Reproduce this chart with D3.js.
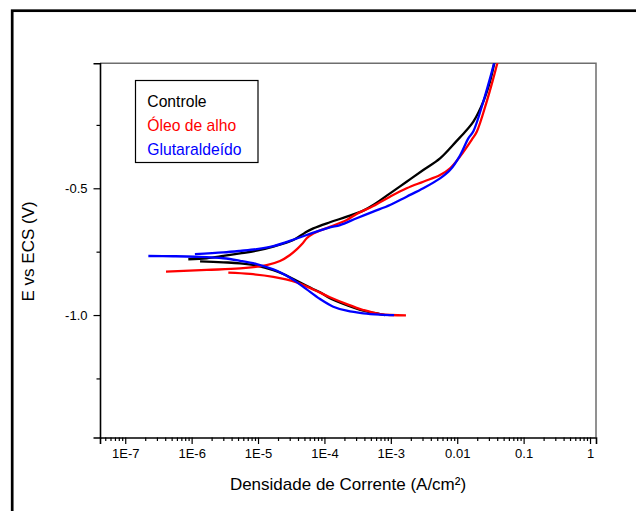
<!DOCTYPE html>
<html>
<head>
<meta charset="utf-8">
<script src="https://cdn.jsdelivr.net/npm/d3@7"></script>
<style>
  body { margin: 0; background: #fff; }
  text { font-family: "Liberation Sans", Arial, sans-serif; }
</style>
</head>
<body>
<script>
// Curvas de polarizacao (corrente em A/cm2, potencial em V vs ECS)
var controleCatI = [8.2e-4, 6.87e-4, 3.85e-4, 2.17e-4, 1.21e-4, 8.59e-5, 6.81e-5, 3.83e-5, 2.6e-5, 1.70e-5, 9.55e-6, 5.36e-6, 3.0e-6, 1.34e-6];
var controleCatE = [-1.0, -0.996, -0.983, -0.961, -0.934, -0.910, -0.898, -0.865, -0.842, -0.823, -0.805, -0.796, -0.792, -0.788];
var controleAnoI = [8.91e-7, 1.69e-6, 3.0e-6, 5.36e-6, 9.55e-6, 1.70e-5, 3.40e-5, 5.11e-5, 6.81e-5, 1.21e-4, 2.17e-4, 3.85e-4, 5.44e-4, 9.73e-4, 1.73e-3, 3.08e-3, 5.51e-3, 9.82e-3, 1.39e-2, 1.75e-2, 2.47e-2, 3.12e-2, 3.62e-2, 3.67e-2];
var controleAnoE = [-0.780, -0.776, -0.767, -0.757, -0.746, -0.730, -0.704, -0.675, -0.658, -0.634, -0.612, -0.588, -0.566, -0.520, -0.474, -0.428, -0.382, -0.313, -0.270, -0.237, -0.158, -0.079, -0.007, 0.0];

var oleoCatI = [1.69e-3, 6.87e-4, 3.85e-4, 2.17e-4, 1.21e-4, 6.81e-5, 3.83e-5, 2.64e-5, 1.70e-5, 7.59e-6, 3.57e-6];
var oleoCatE = [-1.001, -0.996, -0.980, -0.957, -0.930, -0.899, -0.871, -0.859, -0.849, -0.838, -0.833];
var oleoAnoI = [4.11e-7, 1.69e-6, 5.36e-6, 1.35e-5, 2.14e-5, 3.03e-5, 3.86e-5, 4.60e-5, 5.41e-5, 6.81e-5, 1.21e-4, 2.17e-4, 3.06e-4, 5.44e-4, 9.73e-4, 1.73e-3, 3.08e-3, 5.51e-3, 7.80e-3, 1.10e-2, 1.65e-2, 1.97e-2, 2.78e-2, 3.50e-2, 4.02e-2, 4.1e-2];
var oleoAnoE = [-0.829, -0.822, -0.816, -0.803, -0.787, -0.763, -0.740, -0.720, -0.697, -0.678, -0.652, -0.625, -0.601, -0.570, -0.533, -0.500, -0.474, -0.448, -0.421, -0.375, -0.309, -0.277, -0.158, -0.066, -0.007, 0.0];

var glutCatI = [1.12e-3, 6.87e-4, 3.85e-4, 2.17e-4, 1.36e-4, 8.59e-5, 5.41e-5, 3.83e-5, 3.03e-5, 2.14e-5, 1.70e-5, 9.55e-6, 5.36e-6, 3.0e-6, 1.12e-6, 5.3e-7, 2.23e-7];
var glutCatE = [-1.0, -0.998, -0.993, -0.983, -0.967, -0.937, -0.899, -0.870, -0.853, -0.831, -0.820, -0.799, -0.786, -0.776, -0.770, -0.768, -0.767];
var glutAnoI = [1.12e-6, 3.0e-6, 5.36e-6, 9.55e-6, 1.70e-5, 3.83e-5, 6.81e-5, 1.21e-4, 1.72e-4, 3.06e-4, 5.44e-4, 9.73e-4, 1.73e-3, 3.08e-3, 5.51e-3, 7.80e-3, 1.10e-2, 1.47e-2, 1.75e-2, 2.47e-2, 3.12e-2, 3.58e-2, 3.62e-2];
var glutAnoE = [-0.760, -0.753, -0.747, -0.740, -0.728, -0.698, -0.675, -0.654, -0.645, -0.618, -0.592, -0.566, -0.533, -0.500, -0.461, -0.428, -0.371, -0.303, -0.275, -0.158, -0.066, -0.007, 0.0];

var seriesNames = ["Controle", "Óleo de alho", "Glutaraldeído"];
var seriesColors = ["#000000", "#ff0000", "#0000ff"];

var xTickValues = [1e-7, 1e-6, 1e-5, 1e-4, 1e-3, 1e-2, 1e-1, 1];
var xTickLabels = ["1E-7", "1E-6", "1E-5", "1E-4", "1E-3", "0.01", "0.1", "1"];
var yTickValues = [-0.5, -1.0];
var yTickLabels = ["-0.5", "-1.0"];
var yMinorValues = [-0.25, -0.75, -1.25];

var width = 636, height = 511;
var margin = {left: 100, right: 596, top: 63.3, bottom: 437.5};

var svg = d3.select("body")
    .append("svg")
    .attr("width", width)
    .attr("height", height);

// moldura externa (cortada a direita e embaixo)
svg.append("rect")
    .attr("x", 12.2).attr("y", 10.7)
    .attr("width", 700).attr("height", 600)
    .attr("fill", "none")
    .attr("stroke", "#000")
    .attr("stroke-width", 2.7);

var x = d3.scaleLog()
    .domain([Math.pow(10, -7.38), Math.pow(10, 0.09)])
    .range([margin.left, margin.right]);

var y = d3.scaleLinear()
    .domain([-1.483, -0.007])
    .range([margin.bottom, margin.top]);

svg.append("clipPath")
    .attr("id", "plot-clip")
    .append("rect")
    .attr("x", margin.left).attr("y", margin.top)
    .attr("width", margin.right - margin.left)
    .attr("height", margin.bottom - margin.top);

// bordas superior e direita (cinza)
svg.append("path")
    .attr("d", "M" + margin.left + "," + margin.top + "H" + margin.right + "V" + margin.bottom)
    .attr("fill", "none")
    .attr("stroke", "#6e6e6e")
    .attr("stroke-width", 1.5);

// eixo x: ticks maiores e menores
var minorX = [];
for (var p = -8; p <= 0; p++) {
    for (var m = 2; m <= 9; m++) {
        var v = m * Math.pow(10, p);
        if (v > x.domain()[0] && v < x.domain()[1]) minorX.push(v);
    }
}
svg.append("g")
    .attr("transform", "translate(0," + margin.bottom + ")")
    .call(d3.axisBottom(x).tickValues(minorX).tickSize(3.5).tickFormat(""))
    .call(function(g) { g.select(".domain").remove(); })
    .selectAll("line").attr("stroke", "#000").attr("stroke-width", 1.2);

var gx = svg.append("g")
    .attr("transform", "translate(0," + margin.bottom + ")")
    .call(d3.axisBottom(x)
        .tickValues(xTickValues)
        .tickSize(6.5)
        .tickPadding(5)
        .tickFormat(function(d, i) { return xTickLabels[i]; }));
gx.select(".domain").attr("stroke", "#000").attr("stroke-width", 1.6);
gx.selectAll("line").attr("stroke", "#000").attr("stroke-width", 1.2);
gx.selectAll("text")
    .attr("font-size", 13)
    .attr("font-family", "Liberation Sans, Arial, sans-serif")
    .attr("fill", "#000");

// eixo y
svg.append("g")
    .attr("transform", "translate(" + margin.left + ",0)")
    .call(d3.axisLeft(y).tickValues(yMinorValues).tickSize(3.5).tickFormat(""))
    .call(function(g) { g.select(".domain").remove(); })
    .selectAll("line").attr("stroke", "#000").attr("stroke-width", 1.2);

var gy = svg.append("g")
    .attr("transform", "translate(" + margin.left + ",0)")
    .call(d3.axisLeft(y)
        .tickValues(yTickValues)
        .tickSize(6.5)
        .tickPadding(6)
        .tickFormat(function(d, i) { return yTickLabels[i]; }));
gy.select(".domain").attr("stroke", "#000").attr("stroke-width", 1.6);
gy.selectAll("line").attr("stroke", "#000").attr("stroke-width", 1.2);
gy.selectAll("text")
    .attr("font-size", 13)
    .attr("font-family", "Liberation Sans, Arial, sans-serif")
    .attr("fill", "#000");

// titulos dos eixos
svg.append("text")
    .attr("x", (margin.left + margin.right) / 2)
    .attr("y", 490)
    .attr("text-anchor", "middle")
    .attr("font-size", 17)
    .text("Densidade de Corrente (A/cm²)");

svg.append("text")
    .attr("transform", "translate(33.5," + ((margin.top + margin.bottom) / 2 + 1) + ") rotate(-90)")
    .attr("text-anchor", "middle")
    .attr("font-size", 17)
    .text("E vs ECS (V)");

// curvas
var line = d3.line()
    .x(function(d) { return x(d[0]); })
    .y(function(d) { return y(d[1]); })
    .curve(d3.curveCatmullRom.alpha(0.5));

var branches = [
    [controleCatI, controleCatE, 0], [controleAnoI, controleAnoE, 0],
    [oleoCatI, oleoCatE, 1], [oleoAnoI, oleoAnoE, 1],
    [glutCatI, glutCatE, 2], [glutAnoI, glutAnoE, 2]
];

var plot = svg.append("g").attr("clip-path", "url(#plot-clip)");
plot.selectAll(".branch")
    .data(branches)
    .enter()
    .append("path")
    .attr("class", "branch")
    .attr("d", function(b) {
        return line(d3.zip(b[0], b[1]));
    })
    .attr("fill", "none")
    .attr("stroke", function(b) { return seriesColors[b[2]]; })
    .attr("stroke-width", 2.3)
    .attr("stroke-linejoin", "round");

// legenda
var legend = svg.append("g");
legend.append("rect")
    .attr("x", 135.5).attr("y", 80.5)
    .attr("width", 122.5).attr("height", 82)
    .attr("fill", "#fff")
    .attr("stroke", "#000")
    .attr("stroke-width", 1.2);
legend.selectAll(".leg")
    .data(seriesNames)
    .enter()
    .append("text")
    .attr("class", "leg")
    .attr("x", 147.3)
    .attr("y", function(d, i) { return 106.7 + i * 24.2; })
    .attr("font-size", 15.7)
    .attr("fill", function(d, i) { return seriesColors[i]; })
    .text(function(d) { return d; });
</script>
</body>
</html>
